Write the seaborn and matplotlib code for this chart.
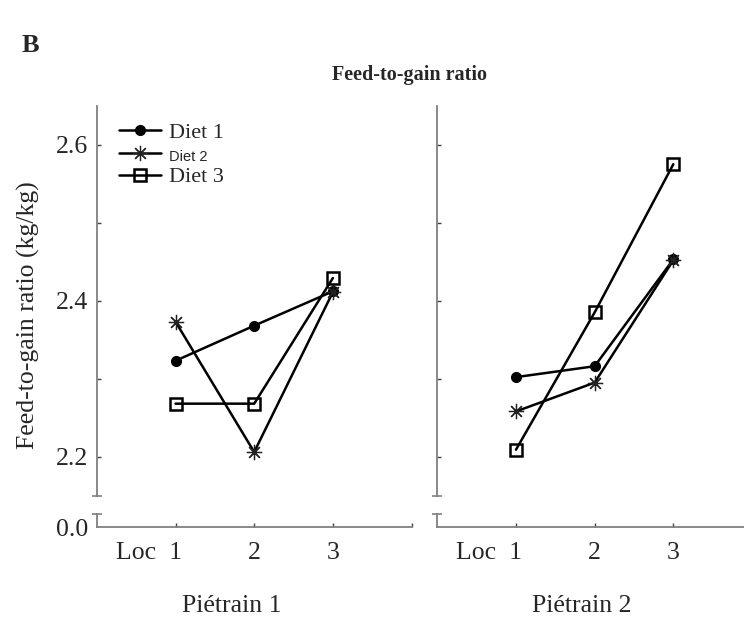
import matplotlib
matplotlib.use('Agg')
import matplotlib.pyplot as plt
import matplotlib.transforms as mtransforms
import seaborn as sns
import pandas as pd

# ---------------- data ----------------
locs = [1, 2, 3]
loc_labels = ['Loc  1', '2', '3', '']
diets = ['Diet 1', 'Diet 2', 'Diet 3']
breeds = ['Piétrain 1', 'Piétrain 2']
y_ticks = [2.2, 2.3, 2.4, 2.5, 2.6]
y_tick_labels = ['2.2', '', '2.4', '', '2.6']

p1_diet1 = [2.323, 2.368, 2.412]
p1_diet2 = [2.373, 2.206, 2.411]
p1_diet3 = [2.268, 2.268, 2.429]
p2_diet1 = [2.302, 2.316, 2.453]
p2_diet2 = [2.258, 2.295, 2.452]
p2_diet3 = [2.209, 2.385, 2.575]

values = {
    (breeds[0], diets[0]): p1_diet1,
    (breeds[0], diets[1]): p1_diet2,
    (breeds[0], diets[2]): p1_diet3,
    (breeds[1], diets[0]): p2_diet1,
    (breeds[1], diets[1]): p2_diet2,
    (breeds[1], diets[2]): p2_diet3,
}
rows = []
for (breed, diet), vals in values.items():
    for l, v in zip(locs, vals):
        rows.append(dict(breed=breed, diet=diet, loc=l, fcr=v))
df = pd.DataFrame(rows)

# ---------------- style ----------------
sns.set_style('white')
plt.rcParams['font.family'] = ['Liberation Serif', 'DejaVu Serif']
SPINE = '#808080'
TICK_FS = 18.5

fig = plt.figure(figsize=(7.44, 6.17), dpi=100)
W, H = 744.0, 617.0


def px_axes(x0, x1, ytop, ybot):
    return fig.add_axes([x0 / W, 1 - ybot / H, (x1 - x0) / W, (ybot - ytop) / H])


panels = [
    (px_axes(96.9, 411.5, 105.7, 495.7), px_axes(96.9, 411.5, 514, 527)),
    (px_axes(437.3, 752.0, 105.7, 495.7), px_axes(437.3, 752.0, 514, 527)),
]

styles = {
    'Diet 1': dict(marker='o', ms=7, mfc='black', mec='black', mew=1),
    'Diet 2': dict(marker=(8, 2, 0), ms=11, mfc='none', mec='#222222', mew=0.9),
    'Diet 3': dict(marker='s', ms=8.5, mfc='none', mec='black', mew=1.8),
}

for i, (breed, (ax_up, ax_lo)) in enumerate(zip(breeds, panels)):
    for diet in diets:
        sub = df[(df.breed == breed) & (df.diet == diet)]
        kw = dict(styles[diet])
        if i == 0:
            kw['label'] = diet
        sns.lineplot(data=sub, x='loc', y='fcr', ax=ax_up, color='black',
                     lw=1.8, **kw)

    # upper (broken) axis
    ax_up.set_xlim(0, 4)
    ax_up.set_ylim(2.15, 2.65)
    ax_up.set_xticks([])
    ax_up.set_yticks(y_ticks)
    ax_up.set_yticklabels(y_tick_labels if i == 0 else [''] * len(y_ticks))
    ax_up.set_yticks([2.15], minor=True)
    ax_up.set_xlabel('')
    ax_up.set_ylabel('')
    for s in ['top', 'right', 'bottom']:
        ax_up.spines[s].set_visible(False)
    ax_up.spines['left'].set_color(SPINE)
    ax_up.spines['left'].set_linewidth(1.3)
    ax_up.tick_params(axis='y', which='major', left=True, direction='in',
                      length=3, width=1, color='#404040', labelsize=TICK_FS, pad=6)
    ax_up.tick_params(axis='y', which='minor', left=True, direction='inout',
                      length=7, width=1.2, color=SPINE)
    ax_up.patch.set_alpha(0)
    if ax_up.get_legend() is not None and i != 0:
        ax_up.get_legend().remove()

    # lower axis (0.0 segment + x axis)
    ax_lo.set_xlim(0, 4)
    ax_lo.set_ylim(0, 0.05)
    ax_lo.set_yticks([0])
    ax_lo.set_yticklabels(['0.0'] if i == 0 else [''])
    ax_lo.set_yticks([0.05], minor=True)
    ax_lo.set_xticks([1, 2, 3, 4])
    ax_lo.set_xticklabels(loc_labels)
    for s in ['top', 'right']:
        ax_lo.spines[s].set_visible(False)
    for s in ['left', 'bottom']:
        ax_lo.spines[s].set_color(SPINE)
        ax_lo.spines[s].set_linewidth(1.3)
    ax_lo.tick_params(axis='y', which='major', left=True, direction='in',
                      length=0, labelsize=TICK_FS, pad=6)
    ax_lo.tick_params(axis='y', which='minor', left=True, direction='inout',
                      length=7, width=1.2, color=SPINE)
    ax_lo.tick_params(axis='x', which='major', bottom=True, direction='in',
                      length=3, width=1, color='#404040', labelsize=TICK_FS, pad=11)
    lab0 = ax_lo.get_xticklabels()[0]
    lab0.set_ha('right')
    lab0.set_transform(lab0.get_transform() +
                       mtransforms.ScaledTranslation(0.065, 0, fig.dpi_scale_trans))
    ax_lo.patch.set_alpha(0)

    fig.text((232 if i == 0 else 582) / W, 1 - 606 / H, breed, fontsize=18.5,
             ha='center', va='center')

# legend
ax0 = panels[0][0]
handles, labels = ax0.get_legend_handles_labels()
leg = ax0.legend(handles, labels, loc='upper left', bbox_to_anchor=(0.07, 0.957),
                 frameon=False, fontsize=16, handlelength=1.9, handletextpad=0.35,
                 labelspacing=0.12, borderaxespad=0, borderpad=0)
t2 = leg.get_texts()[1]
t2.set_fontfamily(['Liberation Sans', 'DejaVu Sans'])
t2.set_fontsize(10.5)

fig.text(22 / W, 1 - 45 / H, 'B', fontsize=19, fontweight='bold',
         ha='left', va='center')
fig.text(410 / W, 1 - 75 / H, 'Feed-to-gain ratio', fontsize=14.5,
         fontweight='bold', ha='center', va='center')
fig.text(28 / W, 1 - 315 / H, 'Feed-to-gain ratio (kg/kg)', rotation=90,
         fontsize=18.5, ha='center', va='center')

fig.savefig('out.png', dpi=100)
